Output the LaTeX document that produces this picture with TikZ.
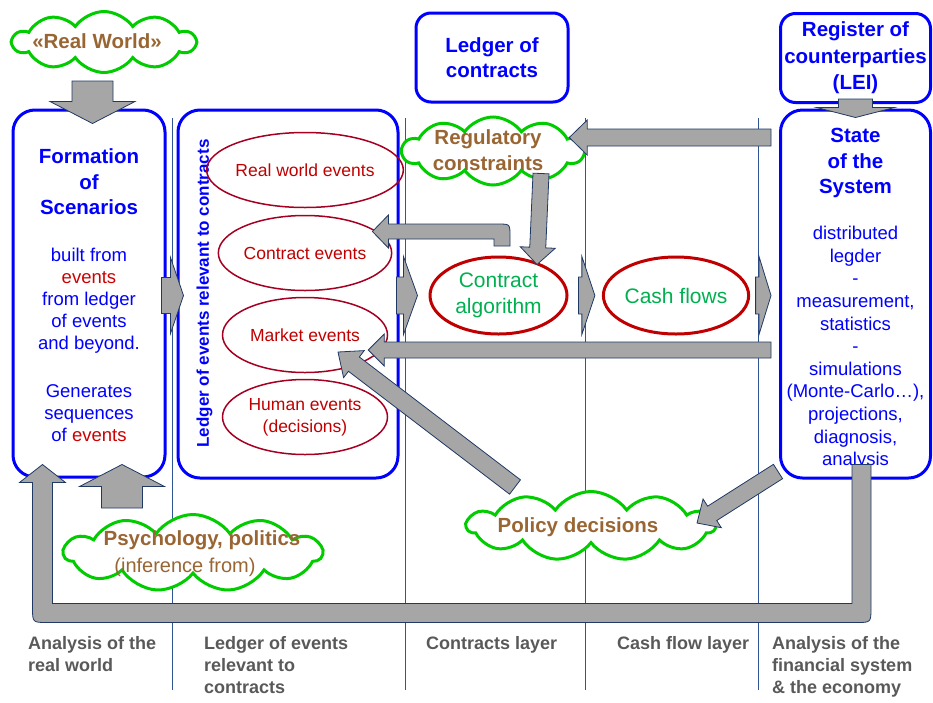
\documentclass[tikz,border=0pt]{standalone}
\usepackage{fontspec}
\setmainfont{Liberation Sans}
\usetikzlibrary{shapes.geometric,shapes.symbols,calc}
\definecolor{boxblue}{RGB}{0,0,255}
\definecolor{formred}{RGB}{204,0,0}
\definecolor{evred}{RGB}{165,0,33}
\definecolor{evtext}{RGB}{192,0,0}
\definecolor{algred}{RGB}{192,0,0}
\definecolor{algtext}{RGB}{0,176,80}
\definecolor{cloudgreen}{RGB}{0,204,0}
\definecolor{cloudtext}{RGB}{153,102,51}
\definecolor{arrowgray}{RGB}{166,166,166}
\definecolor{arrowline}{RGB}{32,56,100}
\definecolor{layerline}{RGB}{47,85,151}
\definecolor{labelgray}{RGB}{89,89,89}

% fat gray arrow: start, tip, half shaft, half head, head length
\newcommand{\blockarrow}[5]{%
\coordinate (ba) at (#1);
\coordinate (bb) at (#2);
\coordinate (bh) at ($(bb)!#5!(ba)$);
\filldraw[fatarrow] ($(ba)!#3!90:(bb)$) -- ($(bh)!#3!90:(bb)$) -- ($(bh)!#4!90:(bb)$) -- (bb)
  -- ($(bh)!#4!-90:(bb)$) -- ($(bh)!#3!-90:(bb)$) -- ($(ba)!#3!-90:(bb)$) -- cycle;
}

\begin{document}
\begin{tikzpicture}[x=1pt,y=-1pt,
  layerbox/.style={draw=boxblue,line width=3pt,rounded corners=22pt,inner sep=0pt},
  boxtitle/.style={text=boxblue,align=center,font=\fontsize{20.5}{25.5}\selectfont\bfseries},
  boxtext/.style={text=boxblue,align=center,font=\fontsize{18.5}{22}\selectfont},
  eventoval/.style={ellipse,draw=evred,line width=1.5pt,minimum width=165pt,minimum height=75pt,
    inner sep=0pt,text=evtext,align=center,font=\fontsize{17.5}{22}\selectfont},
  flowoval/.style={ellipse,draw=algred,line width=3pt,minimum width=137pt,minimum height=77pt,
    inner sep=0pt,text=algtext,align=center,font=\fontsize{21}{26}\selectfont},
  bubble/.style={cloud,cloud puffs=11,cloud puff arc=110,cloud ignores aspect,draw=cloudgreen,
    line width=3pt,fill=white,inner sep=0pt},
  bubbletext/.style={text=cloudtext,align=center,font=\fontsize{20.5}{26}\selectfont\bfseries},
  layerlabel/.style={anchor=north west,inner sep=0pt,text=labelgray,align=left,
    font=\fontsize{18}{22}\selectfont\bfseries},
  fatarrow/.style={fill=arrowgray,draw=arrowline,line width=0.8pt,line join=miter}]
\useasboundingbox (0,0) rectangle (933,702);

% layer separators
\foreach \x in {172,405,585,758}
\draw[layerline,line width=1pt] (\x,118) -- (\x,690);

% boxes
\node[layerbox,minimum width=152pt,minimum height=367pt] (formation) at (89,293.5) {};
\node[layerbox,minimum width=220pt,minimum height=368pt] (ledger) at (288,294) {};
\node[layerbox,minimum width=150pt,minimum height=368pt] (state) at (855.5,294) {};
\node[layerbox,rounded corners=15pt,minimum width=152pt,minimum height=89pt,boxtitle] (contracts) at (492,57.5) {Ledger of\\contracts};
\node[layerbox,rounded corners=15pt,minimum width=150pt,minimum height=89pt,boxtitle,
  font=\fontsize{20.5}{26.5}\selectfont\bfseries] (register) at (855.5,58) {Register of\\counterparties\\(LEI)};

% texts in the boxes
\node[boxtitle] (formtitle) at (89,182) {Formation\\of\\Scenarios};
\node[boxtext] (formbody) at (89,301) {built from\\\textcolor{formred}{events}\\from ledger\\of events\\and beyond.};
\node[boxtext] (formgen) at (89,413) {Generates\\sequences\\of \textcolor{formred}{events}};
\node[boxtitle] (statetitle) at (855.5,163) {State\\of the\\System};
\node[boxtext,font=\fontsize{18.5}{22.6}\selectfont] (statebody) at (855.5,348) {distributed\\legder\\-\\measurement,\\statistics\\-\\simulations\\(Monte-Carlo…),\\projections,\\diagnosis,\\analysis};
\node[rotate=90,text=boxblue,font=\fontsize{17}{20}\selectfont\bfseries] (ledgertitle) at (204.5,293.5) {Ledger of events relevant to contracts};

% events
\foreach \y/\nm/\txt in {170/realev/Real world events, 253/contract/Contract events,
  335/market/Market events, 417/human/{Human events\\(decisions)}}
\node[eventoval] (\nm) at (305,\y) {\txt};

\node[flowoval] (algo) at (498.5,295.5) {Contract\\algorithm};
\node[flowoval] (cash) at (676,295.5) {Cash flows};

% clouds
\node[bubble,cloud puffs=10,minimum width=182pt,minimum height=61pt] (world) at (104,42) {};
\node[bubbletext] (worldtext) at (97,41) {«Real World»};
\node[bubble,cloud puffs=10,minimum width=181pt,minimum height=68pt] (regulatory) at (493,151) {};
\node[bubbletext] (regtext) at (488,150) {Regulatory\\constraints};
\node[bubble,minimum width=258pt,minimum height=77pt] (psych) at (193,553) {};
\node[bubbletext] (psychtext) at (202,540) {Psychology, politics};
\node[text=cloudtext,font=\fontsize{20}{24}\selectfont] (infertext) at (185,567) {(inference from)};
\node[bubble,minimum width=248pt,minimum height=69pt] (policy) at (591,526) {};
\node[bubbletext] (policytext) at (578,527) {Policy decisions};

% fat arrows
\blockarrow{$(world.south)+(-11.5,7)$}{$(formation.north)+(3.5,15)$}{20.5pt}{42.5pt}{22pt}
\blockarrow{$(formation.east |- algo)+(-5,0)$}{$(ledger.west |- algo)+(7,0)$}{18pt}{38pt}{13pt}
\blockarrow{$(ledger.east |- algo)+(-3,0)$}{$(algo.west)+(-11,0)$}{18.5pt}{39pt}{14pt}
\blockarrow{$(algo.east)+(10,0)$}{$(cash.west)+(-7,0)$}{18.5pt}{39pt}{13pt}
\blockarrow{$(cash.east)+(5.5,0)$}{$(state.west |- algo)+(-8,0)$}{18.5pt}{39pt}{12pt}
\blockarrow{$(register.south)+(0,-5)$}{$(state.north)+(0,9)$}{17pt}{39pt}{10pt}
\blockarrow{$(state.west |- regulatory.east)+(-8,-13.5)$}{$(regulatory.east)+(-17,-13.5)$}{8.5pt}{17.5pt}{18pt}
\blockarrow{$(regulatory.south)+(48,-13)$}{$(algo.north)+(38.5,9)$}{8pt}{17.5pt}{17pt}
\blockarrow{$(state.west |- market)+(-8,15)$}{$(market.east)+(-20,15)$}{8pt}{16pt}{16pt}
\blockarrow{$(policy)+(-76,-39)$}{$(market)+(33,17)$}{9pt}{17pt}{20pt}
\blockarrow{$(state.south west)+(-1,-8)$}{$(policy)+(106,-3)$}{8.5pt}{17pt}{18pt}
\blockarrow{$(psych)+(-71,-45)$}{$(formation.south)+(33,-14)$}{20.5pt}{42.5pt}{22pt}

% bent arrow back to contract events
\coordinate (bs) at ($(algo.north)+(3.5,-9.5)$);
\coordinate (bt) at ($(contract.east)+(-20,-21.5)$);
\filldraw[fatarrow] ($(bs)+(-8,0)$) -- ($(bs |- bt)+(-8,7.5)$) -- ($(bt)+(16,7.5)$) -- ($(bt)+(16,16.5)$)
  -- (bt) -- ($(bt)+(16,-16.5)$) -- ($(bt)+(16,-7.5)$) -- ($(bs |- bt)+(-4,-7.5)$)
  .. controls ($(bs |- bt)+(8,-7.5)$) .. ($(bs |- bt)+(8,4.5)$) -- ($(bs)+(8,0)$) -- cycle;

% big loop back to the scenarios
\coordinate (ls) at ($(state.south)+(6,-15)$);
\coordinate (lt) at ($(formation.south west)+(31,-14)$);
\filldraw[fatarrow] ($(ls)+(-9.5,0)$) -- ($(ls)+(-9.5,139)$) -- ($(lt)+(10,139)$) -- ($(lt)+(10,18)$)
  -- ($(lt)+(23,18)$) -- (lt) -- ($(lt)+(-23,18)$) -- ($(lt)+(-10,18)$) -- ($(lt)+(-10,143)$)
  .. controls ($(lt)+(-10,158)$) .. ($(lt)+(5,158)$) -- ($(ls)+(-5,158)$)
  .. controls ($(ls)+(9.5,158)$) .. ($(ls)+(9.5,143)$) -- ($(ls)+(9.5,0)$) -- cycle;

% layer names
\foreach \x/\txt in {28/{Analysis of the\\real world}, 204/{Ledger of events\\relevant to\\contracts},
  426/{Contracts layer}, 617/{Cash flow layer}, 772/{Analysis of the\\financial system\\\& the economy}}
\node[layerlabel] (lab\x) at (\x,636) {\txt};
\end{tikzpicture}
\end{document}
